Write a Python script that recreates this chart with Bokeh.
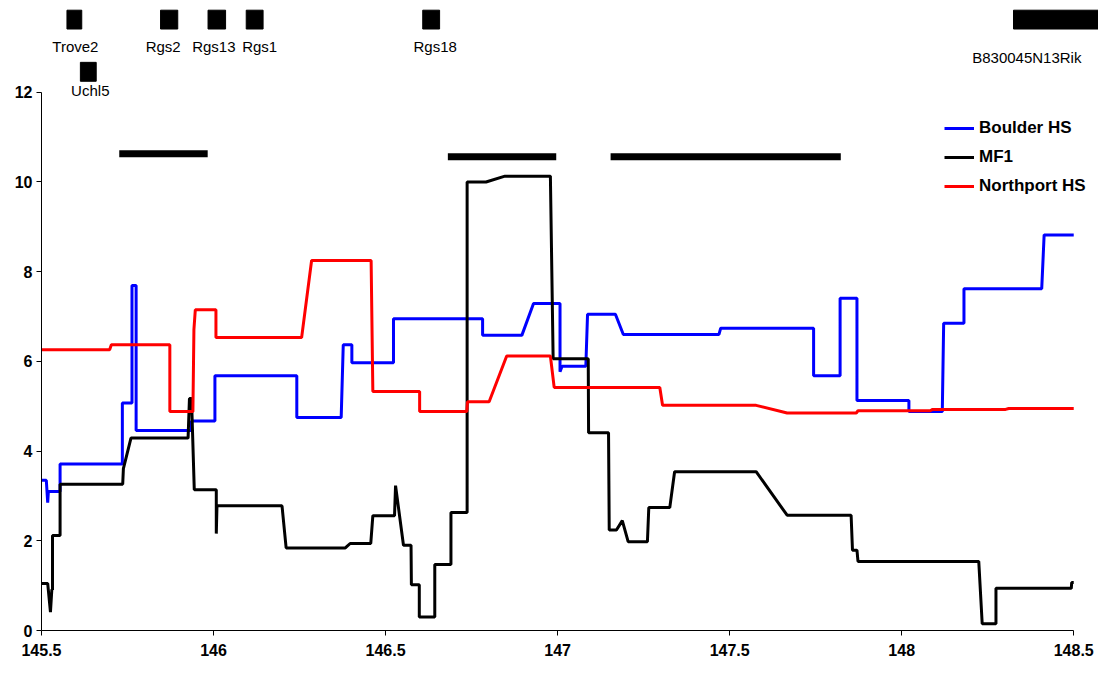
from bokeh.plotting import figure
from bokeh.models import (ColumnDataSource, Legend, LegendItem, FixedTicker,
                          Range1d)
from bokeh.core.properties import value
from bokeh.embed import file_html
from bokeh.resources import INLINE

# ---------------- data ----------------
boulder_x = [145.5, 145.514, 145.518, 145.520, 145.554, 145.554, 145.735, 145.735,
             145.763, 145.763, 145.775, 145.775, 145.936, 145.936, 146.004, 146.004,
             146.242, 146.242, 146.371, 146.377, 146.402, 146.402, 146.523, 146.523,
             146.782, 146.782, 146.896, 146.930, 147.007, 147.007, 147.013, 147.082,
             147.087, 147.168, 147.191, 147.469, 147.474, 147.744, 147.744, 147.821,
             147.821, 147.870, 147.870, 148.021, 148.021, 148.118, 148.122, 148.181,
             148.181, 148.407, 148.414, 148.5]
boulder_y = [3.35, 3.35, 2.85, 3.10, 3.10, 3.71, 3.71, 5.07, 5.07, 7.69, 7.69, 4.46,
             4.46, 4.67, 4.67, 5.68, 5.68, 4.75, 4.75, 6.37, 6.37, 5.97, 5.97, 6.95,
             6.95, 6.58, 6.58, 7.29, 7.29, 5.77, 5.89, 5.89, 7.05, 7.05, 6.60, 6.60,
             6.74, 6.74, 5.68, 5.68, 7.41, 7.41, 5.13, 5.13, 4.88, 4.88, 6.85, 6.85,
             7.62, 7.62, 8.82, 8.82]

mf1_x = [145.5, 145.518, 145.526, 145.530, 145.532, 145.532, 145.554, 145.554,
         145.736, 145.738, 145.760, 145.926, 145.930, 145.936, 145.944, 146.008,
         146.008, 146.010, 146.199, 146.211, 146.383, 146.397, 146.457, 146.463,
         146.526, 146.529, 146.552, 146.574, 146.575, 146.598, 146.598, 146.643,
         146.643, 146.690, 146.690, 146.737, 146.737, 146.792, 146.847, 146.979,
         146.987, 147.089, 147.090, 147.148, 147.150, 147.171, 147.188, 147.205,
         147.261, 147.265, 147.326, 147.340, 147.577, 147.667, 147.853, 147.857,
         147.870, 147.873, 148.224, 148.234, 148.274, 148.274, 148.493, 148.494,
         148.5]
mf1_y = [1.05, 1.05, 0.41, 0.91, 0.91, 2.12, 2.12, 3.26, 3.26, 3.61, 4.29, 4.29,
         5.17, 5.17, 3.14, 3.14, 2.16, 2.78, 2.78, 1.84, 1.84, 1.94, 1.94, 2.56,
         2.56, 3.23, 1.90, 1.90, 1.02, 1.02, 0.30, 0.30, 1.47, 1.47, 2.63, 2.63,
         10.00, 10.00, 10.13, 10.13, 6.06, 6.06, 4.41, 4.41, 2.24, 2.24, 2.45, 1.98,
         1.98, 2.74, 2.74, 3.54, 3.54, 2.57, 2.57, 1.79, 1.79, 1.54, 1.54, 0.15,
         0.15, 0.94, 0.94, 1.07, 1.07]

northport_x = [145.5, 145.698, 145.703, 145.873, 145.873, 145.940, 145.943, 145.947,
               146.007, 146.007, 146.256, 146.285, 146.458, 146.463, 146.599, 146.599,
               146.736, 146.738, 146.801, 146.852, 146.979, 146.990, 147.297, 147.305,
               147.577, 147.667, 147.868, 147.873, 148.083, 148.090, 148.302, 148.311,
               148.5]
northport_y = [6.26, 6.26, 6.37, 6.37, 4.88, 4.88, 6.71, 7.15, 7.15, 6.53, 6.53, 8.25,
               8.25, 5.33, 5.33, 4.88, 4.88, 5.10, 5.10, 6.12, 6.12, 5.42, 5.42, 5.02,
               5.02, 4.85, 4.85, 4.90, 4.90, 4.93, 4.93, 4.95, 4.95]

# QTL intervals (thick bars)
qtl_start = [145.726, 146.681, 147.154]
qtl_end = [145.983, 146.996, 147.823]
qtl_level = [10.63, 10.56, 10.56]

# genes
gene_names = ["Trove2", "Uchl5", "Rgs2", "Rgs13", "Rgs1", "Rgs18", "B830045N13Rik"]
gene_start = [145.574, 145.613, 145.846, 145.984, 146.095, 146.608, 148.325]
gene_end = [145.617, 145.659, 145.896, 146.035, 146.144, 146.657, 148.600]

x_ticks = [145.5, 146, 146.5, 147, 147.5, 148, 148.5]
x_tick_labels = ["145.5", "146", "146.5", "147", "147.5", "148", "148.5"]
y_ticks = [0, 2, 4, 6, 8, 10, 12]

# ---------------- layout / style ----------------
FONT = "Liberation Sans"
gene_box_bottom = [13.41, 12.245, 13.41, 13.41, 13.41, 13.41, 13.41]
gene_box_top = [13.83, 12.667, 13.83, 13.83, 13.83, 13.83, 13.83]
gene_label_y = [13.03, 12.03, 13.03, 13.03, 13.03, 13.03, 12.78]
gene_label_dx = [1, 2, -6, -3, 5, 4, -34]

p = figure(width=1098, height=664, output_backend="svg", toolbar_location=None,
           x_range=Range1d(145.5, 148.572), y_range=Range1d(0, 14.046),
           min_border_left=41, min_border_right=0, min_border_top=0,
           min_border_bottom=34)
p.outline_line_color = None
p.grid.visible = False
p.background_fill_color = "white"
p.border_fill_color = "white"

for ax in (p.xaxis[0], p.yaxis[0]):
    ax.axis_line_color = "black"
    ax.axis_line_width = 1
    ax.major_tick_line_color = "black"
    ax.major_tick_in = 0
    ax.major_tick_out = 5
    ax.minor_tick_line_color = None
    ax.major_label_text_font = FONT
    ax.major_label_text_font_size = "16px"
    ax.major_label_text_font_style = "bold"
    ax.major_label_text_color = "black"

p.xaxis.ticker = FixedTicker(ticks=x_ticks)
p.xaxis.major_label_overrides = {t: s for t, s in zip(x_ticks, x_tick_labels)}
p.xaxis.bounds = (145.5, 148.5)
p.xaxis.major_label_standoff = 8
p.yaxis.ticker = FixedTicker(ticks=y_ticks)
p.yaxis.bounds = (0, 12)
p.yaxis.major_label_standoff = 4

# QTL bars
p.segment(x0=qtl_start, x1=qtl_end, y0=qtl_level, y1=qtl_level,
          line_color="black", line_width=7, line_cap="butt")

# gene boxes and labels
gsrc = ColumnDataSource(dict(
    name=gene_names, left=gene_start, right=gene_end,
    bottom=gene_box_bottom, top=gene_box_top,
    cx=[(a + b) / 2 for a, b in zip(gene_start, gene_end)],
    ly=gene_label_y, dx=gene_label_dx))
p.quad(left="left", right="right", bottom="bottom", top="top", source=gsrc,
       fill_color="black", line_color="black")
p.text(x="cx", y="ly", text="name", source=gsrc, x_offset="dx",
       text_align="center", text_baseline="middle",
       text_font=value(FONT), text_font_size="15px", text_color="black")

# series
r_b = p.line(boulder_x, boulder_y, line_color="#0000FF", line_width=3)
r_m = p.line(mf1_x, mf1_y, line_color="black", line_width=3)
r_n = p.line(northport_x, northport_y, line_color="#FF0000", line_width=3)

legend = Legend(items=[LegendItem(label="Boulder HS", renderers=[r_b]),
                       LegendItem(label="MF1", renderers=[r_m]),
                       LegendItem(label="Northport HS", renderers=[r_n])],
                location=(903, 434), orientation="vertical",
                label_text_font=FONT, label_text_font_size="17px",
                label_text_font_style="bold", label_text_color="black",
                glyph_width=30, glyph_height=20, label_height=20,
                spacing=9, padding=0, margin=0, label_standoff=5,
                border_line_alpha=0, background_fill_alpha=0)
p.add_layout(legend)

open("out.html", "w").write(file_html(p, INLINE))
